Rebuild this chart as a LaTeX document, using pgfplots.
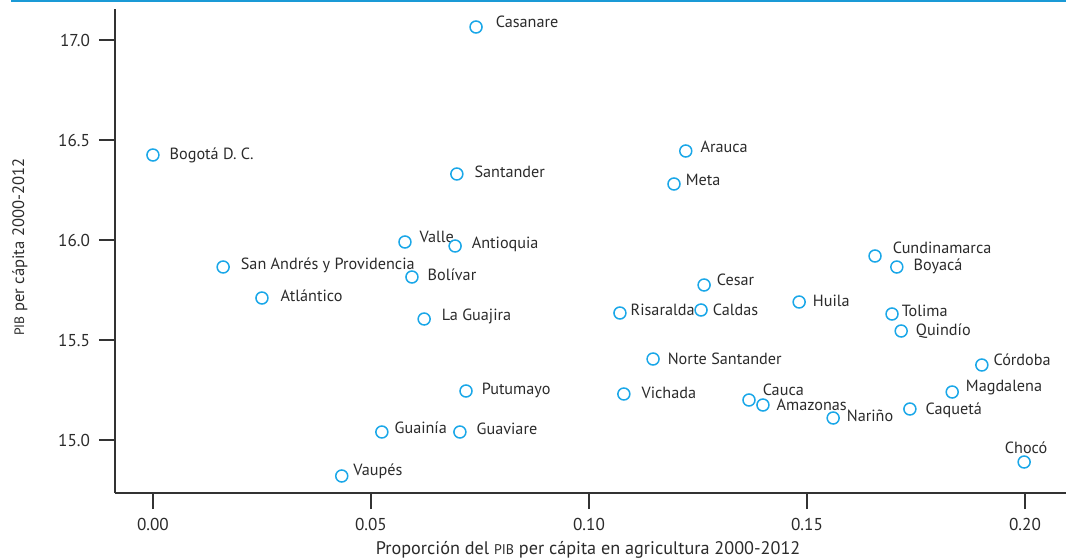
\documentclass[border=0pt]{standalone}
\usepackage{pgfplots}
\pgfplotsset{compat=1.18}
\usepackage{pgfplotstable}
\usepackage{fontspec}
\setmainfont{PT Sans}
\definecolor{dotc}{HTML}{1AA7E8}
\definecolor{topc}{HTML}{1A9AD6}
\definecolor{txt}{HTML}{2B2B2B}
\definecolor{axc}{HTML}{333333}

\pgfplotstableread[col sep=comma]{
x,y,dx,dy,label
0.0741,17.065,9.5,2.5,Casanare
0.0000,16.425,8,0,Bogotá D. C.
0.0697,16.330,8.5,1,Santander
0.1222,16.445,7,2,Arauca
0.1195,16.280,5.5,2,Meta
0.0578,15.990,7,2.5,Valle
0.0693,15.970,8,1,Antioquia
0.0161,15.865,8.5,1,San Andrés y Providencia
0.0594,15.815,7.5,1,Bolívar
0.0250,15.710,9,1,Atlántico
0.0622,15.605,8.5,1.5,La Guajira
0.1656,15.920,8.5,4,Cundinamarca
0.1706,15.865,8,0.5,Boyacá
0.1264,15.775,6,2.5,Cesar
0.1071,15.635,5,1.5,Risaralda
0.1257,15.650,5.5,0,Caldas
0.1482,15.690,6.5,0.5,Huila
0.1695,15.630,4.5,1.5,Tolima
0.1716,15.545,7,0,Quindío
0.1147,15.405,7,0,Norte Santander
0.1901,15.375,5.5,2.5,Córdoba
0.0718,15.245,7.5,0.5,Putumayo
0.1080,15.230,8.5,0.5,Vichada
0.1367,15.200,6.5,5,Cauca
0.1399,15.175,6.5,0,Amazonas
0.1833,15.240,6.5,2,Magdalena
0.1560,15.110,6.5,1,Nariño
0.1736,15.155,7.5,-0.5,Caquetá
0.0525,15.040,6,2,Guainía
0.0704,15.040,8,1.5,Guaviare
0.0433,14.820,5.5,2.5,Vaupés
0.1998,14.890,-10,7,Chocó
}\deps

\begin{document}
\begin{tikzpicture}
\useasboundingbox (0,0) rectangle (533pt,279.5pt);
\draw[topc, line width=0.8pt] (5.5pt,279pt) -- (533pt,279pt);
\begin{axis}[
  at={(57.5pt,33pt)}, anchor=south west,
  scale only axis, width=475.5pt, height=242pt,
  xmin=-0.0087, xmax=0.2094, ymin=14.735, ymax=17.155,
  axis x line*=bottom, axis y line*=left,
  axis line style={draw=axc, line width=0.6pt},
  tick align=outside, major tick length=8pt,
  tick style={draw=axc, line width=0.6pt},
  xtick={0,0.05,0.1,0.15,0.2},
  ytick={15,15.5,16,16.5,17},
  minor tick num=0,
  /pgf/number format/assume math mode=true,
  xticklabel style={yshift=-1pt, /pgf/number format/.cd, fixed, fixed zerofill, precision=2},
  yticklabel style={xshift=-1pt, /pgf/number format/.cd, fixed, fixed zerofill, precision=1},
  ticklabel style={font=\fontsize{8.6}{10}\selectfont, text=txt},
  xlabel={Proporción del {\fontsize{7}{8}\selectfont PIB} per cápita en agricultura 2000-2012},
  ylabel={{\fontsize{6.8}{8}\selectfont PIB} per cápita 2000-2012},
  label style={text=txt},
  xlabel style={font=\fontsize{9.1}{10}\selectfont, at={(axis description cs:0.4975,-0.118)}, anchor=center},
  ylabel style={font=\fontsize{8.3}{10}\selectfont, at={(axis description cs:-0.1,0.508)}, anchor=center},
  clip=false,
]
\addplot[only marks, mark=o, mark size=3pt, draw=dotc, line width=0.75pt,
  point meta=explicit symbolic,
  visualization depends on={\thisrow{dx} \as \dx},
  visualization depends on={\thisrow{dy} \as \dy},
  nodes near coords,
  nodes near coords style={anchor=west, inner sep=0pt, xshift=\dx pt, yshift=\dy pt,
    font=\fontsize{8.1}{10}\selectfont, text=txt},
] table[x=x, y=y, meta=label] {\deps};
\end{axis}
\end{tikzpicture}
\end{document}
